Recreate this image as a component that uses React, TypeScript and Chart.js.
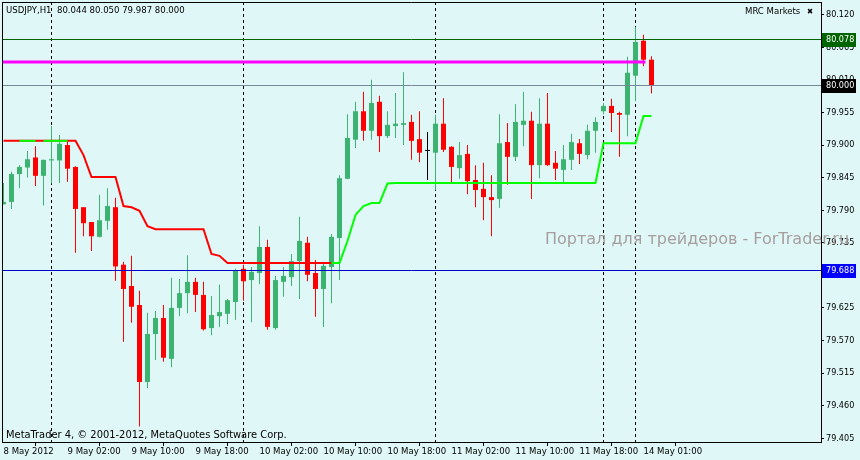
import React, { useEffect, useRef } from "react";
import { Chart, registerables } from "chart.js";

Chart.register(...registerables);

// ---------- data (USDJPY, H1) ----------
const symbolTitle = "USDJPY,H1";
const opens = [
  79.800, 79.804, 79.851, 79.862, 79.879, 79.848, 79.874, 79.874, 79.900, 79.863,
  79.795, 79.770, 79.745, 79.772, 79.795, 79.698, 79.662, 79.630, 79.500, 79.581,
  79.608, 79.539, 79.625, 79.650, 79.669, 79.647, 79.591, 79.611, 79.615, 79.635,
  79.691, 79.672, 79.684, 79.728, 79.591, 79.669, 79.677, 79.704, 79.735, 79.684,
  79.657, 79.694, 79.743, 79.843, 79.909, 79.957, 79.924, 79.973, 79.915, 79.932,
  79.934, 79.939, 79.910, 79.890, 79.887, 79.936, 79.897, 79.861, 79.885, 79.841,
  79.826, 79.812, 79.809, 79.905, 79.880, 79.934, 79.941, 79.866, 79.936, 79.870,
  79.858, 79.875, 79.903, 79.883, 79.924, 79.957, 79.966, 79.954, 79.951, 80.017,
  80.076, 80.044,
];
const highs = [
  79.836, 79.855, 79.866, 79.890, 79.898, 79.875, 79.932, 79.917, 79.907, 79.864,
  79.795, 79.770, 79.816, 79.827, 79.811, 79.703, 79.713, 79.654, 79.617, 79.620,
  79.630, 79.676, 79.674, 79.714, 79.676, 79.669, 79.645, 79.664, 79.640, 79.691,
  79.698, 79.694, 79.763, 79.740, 79.679, 79.694, 79.716, 79.779, 79.745, 79.706,
  79.703, 79.750, 79.849, 79.952, 79.973, 79.990, 80.010, 79.983, 79.957, 79.988,
  80.023, 79.951, 79.957, 79.922, 79.951, 79.979, 79.898, 79.905, 79.900, 79.866,
  79.870, 79.849, 79.952, 79.937, 79.969, 79.990, 79.956, 79.979, 79.988, 79.890,
  79.900, 79.919, 79.910, 79.934, 79.947, 79.971, 79.978, 79.956, 80.049, 80.099,
  80.086, 80.050,
];
const lows = [
  79.799, 79.792, 79.827, 79.845, 79.831, 79.798, 79.835, 79.836, 79.838, 79.718,
  79.746, 79.721, 79.744, 79.757, 79.671, 79.568, 79.600, 79.425, 79.490, 79.537,
  79.534, 79.525, 79.611, 79.616, 79.618, 79.587, 79.579, 79.593, 79.598, 79.605,
  79.637, 79.601, 79.665, 79.588, 79.588, 79.644, 79.662, 79.640, 79.670, 79.610,
  79.593, 79.633, 79.672, 79.842, 79.895, 79.907, 79.909, 79.888, 79.912, 79.912,
  79.900, 79.875, 79.871, 79.841, 79.824, 79.888, 79.834, 79.843, 79.817, 79.795,
  79.773, 79.746, 79.794, 79.833, 79.873, 79.898, 79.809, 79.844, 79.865, 79.841,
  79.836, 79.858, 79.868, 79.876, 79.887, 79.952, 79.922, 79.880, 79.915, 79.974,
  80.033, 79.987,
];
const closes = [
  79.804, 79.851, 79.863, 79.876, 79.848, 79.875, 79.876, 79.902, 79.860, 79.792,
  79.768, 79.746, 79.773, 79.797, 79.695, 79.657, 79.627, 79.500, 79.581, 79.608,
  79.541, 79.625, 79.650, 79.669, 79.647, 79.589, 79.613, 79.618, 79.638, 79.689,
  79.670, 79.686, 79.728, 79.593, 79.672, 79.679, 79.704, 79.738, 79.681, 79.657,
  79.696, 79.745, 79.844, 79.912, 79.957, 79.924, 79.971, 79.915, 79.934, 79.936,
  79.937, 79.907, 79.887, 79.890, 79.936, 79.892, 79.863, 79.883, 79.839, 79.824,
  79.812, 79.807, 79.903, 79.880, 79.939, 79.941, 79.866, 79.936, 79.866, 79.860,
  79.876, 79.905, 79.885, 79.924, 79.939, 79.966, 79.954, 79.951, 80.022, 80.074,
  80.044, 80.000,
];
// MRC channel line: red (down) and green (up) buffers
const mrcDown = [
  79.907, 79.907, 79.907, 79.907, 79.907, 79.907, 79.907, 79.907, 79.907, 79.907,
  79.883, 79.846, 79.846, 79.846, 79.846, 79.797, 79.795, 79.789, 79.763, 79.758,
  79.758, 79.758, 79.758, 79.758, 79.758, 79.758, 79.716, 79.713, 79.701, 79.701,
  79.701, 79.701, 79.701, 79.701, 79.701, 79.701, 79.701, 79.701, 79.701, 79.701,
  79.701, 79.701, null, null, null, null, null, null, null, null,
  null, null, null, null, null, null, null, null, null, null,
  null, null, null, null, null, null, null, null, null, null,
  null, null, null, null, null, null, null, null, null, null,
  null, null,
];
const mrcUp = [
  null, null, 79.907, 79.907, 79.907, 79.907, 79.907, 79.907, 79.907, null,
  null, null, null, null, null, null, null, null, null, null,
  null, null, null, null, null, null, null, null, null, null,
  null, null, null, null, null, null, null, null, null, null,
  null, 79.701, 79.701, 79.738, 79.782, 79.797, 79.802, 79.802, 79.835, 79.836,
  79.836, 79.836, 79.836, 79.836, 79.836, 79.836, 79.836, 79.836, 79.836, 79.836,
  79.836, 79.836, 79.836, 79.836, 79.836, 79.836, 79.836, 79.836, 79.836, 79.836,
  79.836, 79.836, 79.836, 79.836, 79.836, 79.903, 79.903, 79.903, 79.903, 79.903,
  79.949, 79.949,
];
const mrcUpBreaks = [4];

const separatorBars = [6, 30, 54, 75, 79];
const xTickBars = [0, 8, 16, 24, 32, 40, 48, 56, 64, 72, 80];
const xTickLabels = [
  "8 May 2012", "9 May 02:00", "9 May 10:00", "9 May 18:00", "10 May 02:00",
  "10 May 10:00", "10 May 18:00", "11 May 02:00", "11 May 10:00", "11 May 18:00",
  "14 May 01:00",
];
const yTickValues = [
  80.12, 80.065, 80.01, 79.955, 79.9, 79.845, 79.79, 79.735, 79.68, 79.625,
  79.57, 79.515, 79.46, 79.405,
];
const levelValues = [80.078, 80.0, 79.688];
const magentaLevel = 80.04;
const magentaEndBar = 80.25;
const xRange = [-0.1875, 102.1875];
const yRange = [79.3987, 80.1414];

// ---------- styles ----------
const BG = "#E0F7F7";
const UP = "#3CB371";
const DOWN = "#FF0000";
const FONT = "'DejaVu Sans Condensed', 'DejaVu Sans', sans-serif";
const levelLineColors = ["#006400", "#778899", "#0000CD"];
const levelBoxColors = ["#006400", "#000000", "#0000FF"];

export default function App() {
  const ref = useRef<HTMLCanvasElement | null>(null);

  useEffect(() => {
    document.body.style.margin = "0";
    const canvas = ref.current;
    if (!canvas) return;
    const idx = opens.map((_, i) => i);
    const colors = idx.map((i) =>
      closes[i] > opens[i] ? UP : closes[i] < opens[i] ? DOWN : "#000000"
    );

    const overlay = {
      id: "mt4overlay",
      beforeDraw(chart: any) {
        const { ctx, width, height } = chart;
        ctx.save();
        ctx.fillStyle = BG;
        ctx.fillRect(0, 0, width, height);
        ctx.restore();
      },
      beforeDatasetsDraw(chart: any) {
        const { ctx, chartArea, scales } = chart;
        ctx.save();
        ctx.strokeStyle = "#000";
        ctx.lineWidth = 1;
        ctx.setLineDash([3, 3]);
        separatorBars.forEach((b) => {
          const x = Math.floor(scales.x.getPixelForValue(b)) + 0.5;
          ctx.beginPath();
          ctx.moveTo(x, chartArea.top);
          ctx.lineTo(x, chartArea.bottom);
          ctx.stroke();
        });
        ctx.restore();
      },
      afterDatasetsDraw(chart: any) {
        const { ctx, chartArea, scales } = chart;
        ctx.save();
        ctx.beginPath();
        ctx.rect(chartArea.left, chartArea.top, chartArea.right - chartArea.left, chartArea.bottom - chartArea.top);
        ctx.clip();
        const ym = scales.y.getPixelForValue(magentaLevel);
        ctx.strokeStyle = "#FF00FF";
        ctx.lineWidth = 3;
        ctx.beginPath();
        ctx.moveTo(chartArea.left, Math.round(ym));
        ctx.lineTo(scales.x.getPixelForValue(magentaEndBar), Math.round(ym));
        ctx.stroke();
        levelValues.forEach((v, k) => {
          const y = Math.floor(scales.y.getPixelForValue(v)) + 0.5;
          ctx.strokeStyle = levelLineColors[k];
          ctx.lineWidth = 1;
          ctx.beginPath();
          ctx.moveTo(chartArea.left, y);
          ctx.lineTo(chartArea.right, y);
          ctx.stroke();
        });
        ctx.restore();
      },
      afterDraw(chart: any) {
        const { ctx, chartArea, scales } = chart;
        ctx.save();
        ctx.strokeStyle = "#000";
        ctx.lineWidth = 1;
        ctx.beginPath();
        ctx.moveTo(chartArea.left, chartArea.top + 0.5);
        ctx.lineTo(chartArea.right, chartArea.top + 0.5);
        ctx.moveTo(chartArea.left + 0.5, chartArea.top);
        ctx.lineTo(chartArea.left + 0.5, chartArea.bottom);
        ctx.stroke();

        // price boxes on the right axis
        ctx.font = `9px ${FONT}`;
        ctx.textBaseline = "middle";
        ctx.textAlign = "left";
        levelValues.forEach((v, k) => {
          const y = Math.floor(scales.y.getPixelForValue(v)) + 0.5;
          ctx.fillStyle = levelBoxColors[k];
          ctx.fillRect(chartArea.right + 1, Math.round(y - 7), 34, 14);
          ctx.fillStyle = "#FFFFFF";
          ctx.fillText(v.toFixed(3), chartArea.right + 5, y);
        });

        // texts
        ctx.fillStyle = "#000";
        ctx.font = `9.5px ${FONT}`;
        const last = opens.length - 1;
        ctx.fillText(
          `${symbolTitle}  ${opens[last].toFixed(3)} ${highs[last].toFixed(3)} ${lows[last].toFixed(3)} ${closes[last].toFixed(3)}`,
          chartArea.left + 4,
          11
        );
        ctx.fillText("MRC Markets", 745, 11.5);
        ctx.font = `11px ${FONT}`;
        ctx.fillText("MetaTrader 4, © 2001-2012, MetaQuotes Software Corp.", chartArea.left + 4, 435.5);
        ctx.font = `8px ${FONT}`;
        ctx.fillText("✖", 807, 11.5);

        // watermark
        ctx.font = `16px 'DejaVu Sans', sans-serif`;
        ctx.fillStyle = "#A69E9E";
        ctx.textBaseline = "alphabetic";
        ctx.fillText("Портал для трейдеров - ForTrader.ru", 545, 244);
        ctx.restore();
      },
    };

    const chart = new Chart(canvas, {
      type: "bar",
      data: {
        datasets: [
          {
            type: "line",
            label: "MRC up",
            data: idx.map((i) => ({ x: i, y: mrcUp[i] })),
            borderColor: "#00FF00",
            borderWidth: 2,
            pointRadius: 0,
            spanGaps: false,
            segment: {
              borderColor: (c: any) => (mrcUpBreaks.includes(c.p0DataIndex) ? "rgba(0,0,0,0)" : undefined),
            },
            order: 0,
          } as any,
          {
            type: "line",
            label: "MRC down",
            data: idx.map((i) => ({ x: i, y: mrcDown[i] })),
            borderColor: "#FF0000",
            borderWidth: 2,
            pointRadius: 0,
            spanGaps: false,
            order: 1,
          } as any,
          {
            type: "bar",
            label: "bodies",
            data: idx.map((i) => ({ x: i, y: [opens[i], closes[i]] })),
            backgroundColor: colors,
            borderWidth: 0,
            barThickness: 5,
            grouped: false,
            minBarLength: 1,
            inflateAmount: 0,
            order: 2,
          } as any,
          {
            type: "bar",
            label: "wicks",
            data: idx.map((i) => ({ x: i, y: [lows[i], highs[i]] })),
            backgroundColor: colors,
            borderWidth: 0,
            barThickness: 1,
            grouped: false,
            inflateAmount: 0,
            order: 3,
          } as any,
        ],
      },
      options: {
        animation: false,
        responsive: false,
        devicePixelRatio: 1,
        events: [],
        layout: { padding: { left: 2, top: 2, right: 0, bottom: 0 } },
        plugins: { legend: { display: false }, tooltip: { enabled: false } },
        scales: {
          x: {
            type: "linear",
            position: "bottom",
            min: xRange[0],
            max: xRange[1],
            offset: false,
            afterBuildTicks: (s: any) => {
              s.ticks = xTickBars.map((v) => ({ value: v }));
            },
            afterFit: (s: any) => {
              s.height = 18;
              s.paddingLeft = 0;
              s.paddingRight = 0;
            },
            ticks: {
              autoSkip: false,
              maxRotation: 0,
              minRotation: 0,
              align: "start",
              padding: 0,
              color: "#000",
              font: { family: FONT, size: 9.5 },
              callback: (v: any) => {
                const k = xTickBars.indexOf(Number(v));
                return k >= 0 ? xTickLabels[k] : "";
              },
            },
            grid: { drawOnChartArea: false, drawTicks: true, tickLength: 4, color: "#000", lineWidth: 1 },
            border: { display: true, color: "#000", width: 1 },
          },
          y: {
            type: "linear",
            position: "right",
            min: yRange[0],
            max: yRange[1],
            afterBuildTicks: (s: any) => {
              s.ticks = yTickValues.map((v) => ({ value: v }));
            },
            afterFit: (s: any) => {
              s.width = 39;
              s.paddingTop = 0;
              s.paddingBottom = 0;
            },
            ticks: {
              autoSkip: false,
              padding: 2,
              color: "#000",
              font: { family: FONT, size: 9 },
              callback: (v: any) => Number(v).toFixed(3),
            },
            grid: { drawOnChartArea: false, drawTicks: true, tickLength: 3, color: "#000", lineWidth: 1 },
            border: { display: true, color: "#000", width: 1 },
          },
        },
      } as any,
      plugins: [overlay],
    });

    return () => chart.destroy();
  }, []);

  return (
    <div style={{ width: 860, height: 460 }}>
      <canvas ref={ref} width={860} height={460} style={{ display: "block", width: 860, height: 460 }} />
    </div>
  );
}
